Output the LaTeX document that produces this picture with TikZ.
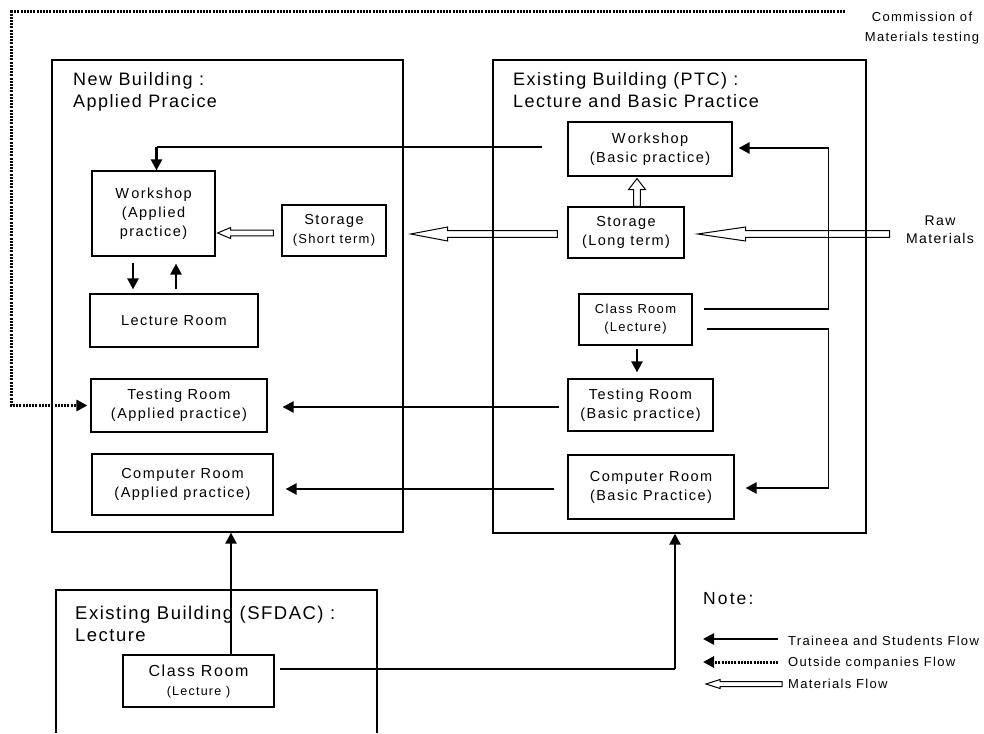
\documentclass[tikz,border=0pt]{standalone}
\usepackage{fontspec}
\setmainfont{Liberation Sans}
\newfontfamily\rf{Liberation Sans}[LetterSpace=10]
\newfontfamily\hf{Liberation Sans}[LetterSpace=8]
\newfontfamily\nf{Liberation Sans}[LetterSpace=12]
\usetikzlibrary{arrows.meta,calc}
\tikzset{
  frame/.style={draw, line width=1.3pt, inner sep=0pt},
  room/.style={draw, line width=1.2pt, inner sep=0pt, align=center, font=\rf\fontsize{14.5}{19}\selectfont},
  head/.style={inner sep=0pt, anchor=base west, font=\hf\fontsize{18}{22}\selectfont},
  lbl/.style={inner sep=0pt, align=center, font=\rf\fontsize{13}{17}\selectfont},
  flow/.style={line width=2.4pt, -{Triangle[length=11pt,width=11pt]}},
  thinline/.style={line width=1.1pt},
  outside/.style={line width=3pt, dash pattern=on 2pt off 1.2pt, -{Triangle[length=11pt,width=11pt]}},
  matflow/.style={draw, line width=1pt, line join=miter},
}
% hollow arrow pointing left: #1 tail, #2 tip, #3 shaft half width, #4 head half width, #5 head length
\newcommand\matleft[5]{\draw[matflow] let \p1=(#1), \p2=(#2) in (\p2) -- (\x2+#5pt,\y2+#4pt) -- (\x2+#5pt,\y2+#3pt) -- (\x1,\y2+#3pt) -- (\x1,\y2-#3pt) -- (\x2+#5pt,\y2-#3pt) -- (\x2+#5pt,\y2-#4pt) -- cycle;}
% hollow arrow pointing up
\newcommand\matup[5]{\draw[matflow] let \p1=(#1), \p2=(#2) in (\p2) -- (\x2+#4pt,\y2-#5pt) -- (\x2+#3pt,\y2-#5pt) -- (\x2+#3pt,\y1) -- (\x2-#3pt,\y1) -- (\x2-#3pt,\y2-#5pt) -- (\x2-#4pt,\y2-#5pt) -- cycle;}
\newcommand\Wk{W\kern2.5pt orkshop}
\begin{document}
\begin{tikzpicture}[x=1pt,y=-1pt]
\useasboundingbox (0,0) rectangle (984,733);
\fill[white] (0,0) rectangle (984,733);
% building frames
\node[frame, minimum width=351pt, minimum height=472pt] (nb) at (227.5,296) {};
\node[frame, minimum width=373pt, minimum height=473pt] (ptc) at (679.5,296.5) {};
\draw[line width=1.3pt] (56,733) |- (377,590) -- (377,733);
% headings
\node[head] (nbt1) at (73,86) {New Building :};
\node[head] (nbt2) at (73,108) {Applied Pracice};
\node[head] (ptt1) at (513,86) {Existing Building (PTC) :};
\node[head] (ptt2) at (513,108) {Lecture and Basic Practice};
\node[head, font=\hf\fontsize{18.5}{22}\selectfont] (sft1) at (75,619) {Existing Building (SFDAC) :};
\node[head, font=\hf\fontsize{18.5}{22}\selectfont] (sft2) at (75,641) {Lecture};
% rooms new building
\node[room, minimum width=123pt, minimum height=85pt] (wsA) at (153.5,213.5) {\Wk\\(Applied\\practice)};
\node[room, minimum width=104pt, minimum height=51pt] (stS) at (334,230.5) {Storage\\{\fontsize{13}{17}\selectfont(Short term)}};
\node[room, minimum width=168pt, minimum height=53pt] (lec) at (174,320.5) {Lecture Room};
\node[room, minimum width=176pt, minimum height=53pt] (tsA) at (179,405.5) {Testing Room\\(Applied practice)};
\node[room, minimum width=181pt, minimum height=61pt] (cpA) at (182.5,484.5) {Computer Room\\(Applied practice)};
% rooms PTC
\node[room, minimum width=164pt, minimum height=54pt] (wsB) at (650,149) {\Wk\\(Basic practice)};
\node[room, minimum width=116pt, minimum height=51pt] (stL) at (626,232.5) {Storage\\(Long term)};
\node[room, minimum width=113pt, minimum height=51pt, font=\rf\fontsize{13}{18}\selectfont] (crP) at (635.5,319.5) {Class Room\\(Lecture)};
\node[room, minimum width=145pt, minimum height=52pt] (tsB) at (640.5,405) {Testing Room\\(Basic practice)};
\node[room, minimum width=166pt, minimum height=64pt] (cpB) at (651,487) {Computer Room\\(Basic Practice)};
% room SFDAC
\node[room, minimum width=151pt, minimum height=52pt, font=\rf\fontsize{16}{19}\selectfont] (crS) at (198.5,681) {Class Room\\{\fontsize{12.5}{15}\selectfont(Lecture )}};
% outside labels
\node[lbl, font=\rf\fontsize{13}{20}\selectfont] (com) at (922,28) {Commission of\\Materials testing};
\node[lbl, font=\rf\fontsize{14}{17.5}\selectfont] (raw) at (940,230) {Raw\\Materials};
% dotted outside flow
\coordinate (dotstart) at (845,12);
\draw[outside] (dotstart) -| ($(tsA.west)+(-79,0)$) -- ($(tsA.west)+(-3,0)$);
% workshop basic -> workshop applied
\coordinate (w1) at ($(wsB.west)+(-25,-2)$);
\coordinate (w2) at ($(wsA.north)+(3,0)$);
\draw[thinline] (w1) -- (w1 -| w2);
\draw[flow] (w1 -| w2) -- (w2);
% workshop <-> lecture
\draw[flow] ($(wsA.south)+(-20.5,6)$) -- ($(wsA.south |- lec.north)+(-20.5,-4)$);
\draw[flow] ($(wsA.south |- lec.north)+(22.5,-4)$) -- ($(wsA.south)+(22.5,7)$);
% materials flows
\matleft{$(stS.west)+(-8,2.5)$}{$(wsA.east |- stS.west)+(2,2.5)$}{2.8}{5.5}{13}
\matleft{$(stL.west)+(-10,1.5)$}{$(nb.east |- stL.west)+(7,1.5)$}{3.3}{7}{37}
\matleft{$(stL.east)+(205,1.5)$}{$(stL.east)+(13,1.5)$}{3.3}{7}{48}
\matup{$(stL.north)+(11,0)$}{$(wsB.south)+(-13,2)$}{3.3}{8.5}{11}
% class room PTC -> workshop basic
\coordinate (c1s) at ($(crP.east)+(11,-10.5)$);
\coordinate (c1t) at ($(wsB.east)+(6,-1)$);
\coordinate (c1k) at ($(crP.east)+(136,-10.5)$);
\draw[thinline] (c1s) -- (c1k) -- (c1k |- c1t);
\draw[flow] (c1k |- c1t) -- (c1t);
% class room PTC -> computer basic
\coordinate (c2s) at ($(crP.east)+(14,9.5)$);
\coordinate (c2t) at ($(cpB.east)+(11,1)$);
\coordinate (c2k) at ($(crP.east)+(136,9.5)$);
\draw[thinline] (c2s) -- (c2k) -- (c2k |- c2t);
\draw[flow] (c2k |- c2t) -- (c2t);
% class room PTC -> testing basic
\draw[flow] ($(crP.south)+(1.5,3)$) -- ($(crP.south |- tsB.north)+(1.5,-6)$);
% basic -> applied
\draw[flow] ($(tsB.west)+(-8,2)$) -- ($(tsA.east |- tsB.west)+(15,2)$);
\draw[flow] ($(cpB.west)+(-13,2)$) -- ($(cpA.east |- cpB.west)+(12,2)$);
% SFDAC class room -> new building
\coordinate (s1) at ($(crS.north)+(32.5,0)$);
\draw[flow] (s1) -- (s1 |- nb.south);
% SFDAC class room -> PTC
\coordinate (s2) at ($(crS.east)+(5,-12)$);
\coordinate (s2t) at ($(ptc.south)+(-4.5,0)$);
\draw[thinline] (s2) -- (s2 -| s2t);
\draw[flow] (s2 -| s2t) -- (s2t);
% legend
\node[inner sep=0pt, anchor=west, font=\nf\fontsize{17.5}{20}\selectfont] (note) at (703,599) {Note:};
\node[lbl, anchor=west] (lg1) at (788,641) {Traineea and Students Flow};
\node[lbl, anchor=west] (lg2) at (788,663) {Outside companies Flow};
\node[lbl, anchor=west] (lg3) at (788,684) {Materials Flow};
\coordinate (lg1s) at ($(lg1.west)+(-10,-2)$);
\coordinate (lg1e) at ($(lg1.west)+(-85,-2)$);
\draw[flow] (lg1s) -- (lg1e);
\coordinate (lg2s) at ($(lg2.west)+(-10,-1)$);
\coordinate (lg2e) at ($(lg2.west)+(-85,-1)$);
\draw[outside] (lg2s) -- (lg2e);
\matleft{$(lg3.west)+(-6,0)$}{$(lg3.west)+(-82,0)$}{2.5}{4.5}{14}
\end{tikzpicture}
\end{document}
